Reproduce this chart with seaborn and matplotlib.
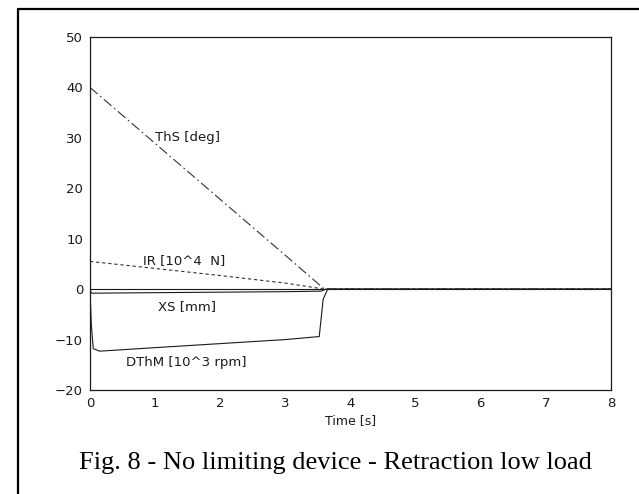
import numpy as np
import pandas as pd
import matplotlib
matplotlib.use("Agg")
import matplotlib.pyplot as plt
import seaborn as sns
from matplotlib.lines import Line2D

# ---- data ----
ths_t = [0.0, 1.0, 2.0, 3.0, 3.6, 8.0]
ths_v = [40.0, 28.9, 17.8, 6.7, 0.0, 0.0]

ir_t = [0.0, 1.0, 2.0, 3.0, 3.6, 8.0]
ir_v = [5.5, 4.1, 2.7, 1.2, 0.0, 0.0]

xs_t = [0.0, 0.02, 1.0, 2.0, 3.0, 3.55, 3.62, 8.0]
xs_v = [0.0, -0.8, -0.7, -0.6, -0.5, -0.4, 0.0, 0.0]

dthm_t = [0.0, 0.02, 0.05, 0.15, 1.0, 2.0, 3.0, 3.52, 3.58, 3.65, 8.0]
dthm_v = [0.0, -7.0, -11.8, -12.3, -11.6, -10.8, -10.0, -9.4, -2.0, 0.0, 0.0]

x_ticks = [0, 1, 2, 3, 4, 5, 6, 7, 8]
y_ticks = [-20, -10, 0, 10, 20, 30, 40, 50]

labels = {
    "ThS [deg]": (1.0, 30.0),
    "IR [10^4  N]": (0.82, 5.6),
    "XS [mm]": (1.05, -3.4),
    "DThM [10^3 rpm]": (0.55, -14.6),
}
caption = "Fig. 8 - No limiting device - Retraction low load"

sns.set_style("white")
plt.rcParams["font.family"] = ["DejaVu Sans"]

fig = plt.figure(figsize=(6.39, 4.94), dpi=100)
ax = fig.add_axes([90/639, 1-390/494, (611-90)/639, (390-37)/494])

ink = "#1a1a1a"
lw = 0.8
sns.lineplot(x=ths_t, y=ths_v, ax=ax, color="#333333", lw=lw)
ax.lines[-1].set_dashes((9, 3, 1.5, 3))
sns.lineplot(x=ir_t, y=ir_v, ax=ax, color="#333333", lw=lw)
ax.lines[-1].set_dashes((3, 2.5))
ax.axhline(0, color=ink, lw=lw)
sns.lineplot(x=xs_t, y=xs_v, ax=ax, color=ink, lw=lw)
sns.lineplot(x=dthm_t, y=dthm_v, ax=ax, color=ink, lw=lw)

for txt, (x, y) in labels.items():
    ax.text(x, y, txt, fontsize=9.5, color=ink, va="center", ha="left")

ax.set_xlim(0, 8)
ax.set_ylim(-20, 50)
ax.set_xticks(x_ticks)
ax.set_yticks(y_ticks)
ax.tick_params(direction="out", length=3, width=0.8, colors=ink, labelsize=9.5, pad=2)
ax.set_xlabel("Time [s]", fontsize=9, color=ink, labelpad=3)
ax.set_ylabel("")
for s in ax.spines.values():
    s.set_color(ink)
    s.set_linewidth(0.9)
    s.set_visible(True)

# outer frame (top and left)
fig.add_artist(Line2D([18/639, 1.0], [1-9/494, 1-9/494], transform=fig.transFigure, color="black", lw=1.6))
fig.add_artist(Line2D([18/639, 18/639], [1-9/494, 0.0], transform=fig.transFigure, color="black", lw=1.6))

fig.text(335/639, 1-463/494, caption, ha="center", va="center", fontsize=19,
         family=["Liberation Serif", "DejaVu Serif"], color="black")

fig.savefig("out.png", dpi=100)
